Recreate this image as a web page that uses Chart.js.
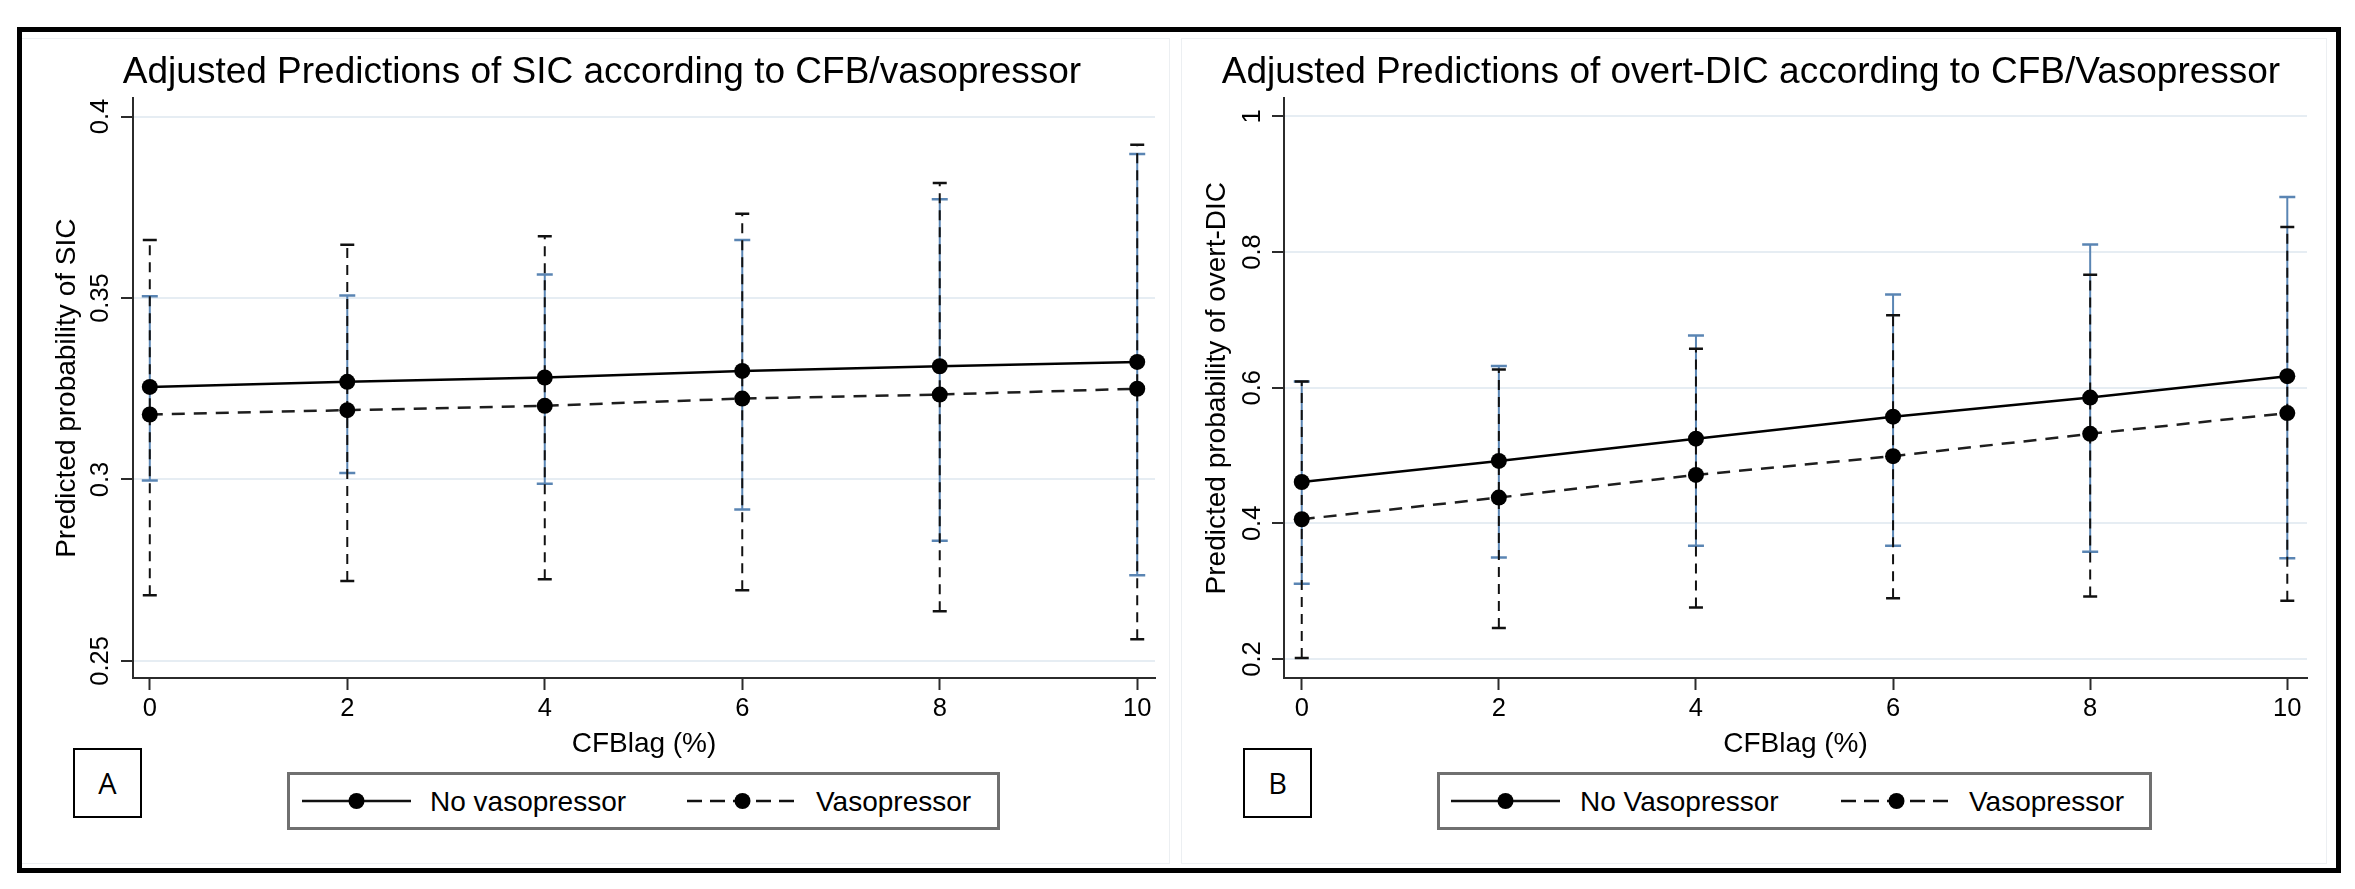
<!DOCTYPE html>
<html lang="en">
<head>
  <meta charset="UTF-8" />
  <title>Adjusted Predictions of SIC and overt-DIC</title>
  <script src="https://cdn.jsdelivr.net/npm/chart.js"></script>
  <style>
    body {
      margin: 0;
      background: #fff;
      font-family: "Liberation Sans", Arial, sans-serif;
    }
    #frame {
      position: absolute;
      left: 17px;
      top: 27px;
      width: 2314px;
      height: 836px;
      border: 5px solid #000;
    }
    .ghost {
      position: absolute;
      border: 1px solid #eceff2;
    }
    .panel {
      position: absolute;
      top: 23px;
      height: 845px;
    }
    .letter {
      position: absolute;
      box-sizing: border-box;
      width: 69px;
      height: 70px;
      border: 2px solid #000;
      background: #fff;
      font-family: "Open Sans", sans-serif;
      font-size: 29px;
      line-height: 66px;
      text-align: center;
      color: #000;
    }
    .legend {
      position: absolute;
      box-sizing: border-box;
      top: 772px;
      height: 58px;
      border: 3px solid #707070;
      background: #fff;
    }
    .legend svg {
      position: absolute;
      left: 0;
      top: 0;
    }
  </style>
</head>
<body>
  <div id="frame"></div>
  <div class="ghost" style="left:22px; top:38px; width:1147px; height:824px; border-left:none;"></div>
  <div class="ghost" style="left:1181px; top:38px; width:1144px; height:824px;"></div>

  <div class="panel" style="left:20px; width:1148px;"><canvas id="chartSIC"></canvas></div>
  <div class="panel" style="left:1172px; width:1164px;"><canvas id="chartDIC"></canvas></div>

  <div class="letter" style="left:73px; top:748px;">A</div>
  <div class="letter" style="left:1243px; top:748px;">B</div>

  <div class="legend" id="legendSIC" style="left:287px; width:713px;"></div>
  <div class="legend" id="legendDIC" style="left:1437px; width:715px;"></div>

  <script>
    // CFBlag (%) values where margins were evaluated
    const cfbLag = [0, 2, 4, 6, 8, 10];
    const xTicks = [0, 2, 4, 6, 8, 10];

    // Panel A: SIC
    const sicTicks = [0.25, 0.3, 0.35, 0.4];
    const sicTickLabels = ["0.25", "0.3", "0.35", "0.4"];
    const sicLabels = ["No vasopressor", "Vasopressor"];
    const sicNoVaso = [0.3255, 0.3269, 0.3281, 0.3299, 0.3312, 0.3324];
    const sicNoVasoLo = [0.2997, 0.3018, 0.2988, 0.2917, 0.2831, 0.2736];
    const sicNoVasoHi = [0.3505, 0.3507, 0.3565, 0.3660, 0.3772, 0.3897];
    const sicVaso = [0.3179, 0.3191, 0.3203, 0.3223, 0.3234, 0.3250];
    const sicVasoLo = [0.2681, 0.2720, 0.2725, 0.2695, 0.2637, 0.2560];
    const sicVasoHi = [0.3660, 0.3647, 0.3670, 0.3732, 0.3817, 0.3922];

    // Panel B: overt-DIC
    const dicTicks = [0.2, 0.4, 0.6, 0.8, 1];
    const dicTickLabels = ["0.2", "0.4", "0.6", "0.8", "1"];
    const dicLabels = ["No Vasopressor", "Vasopressor"];
    const dicNoVaso = [0.461, 0.492, 0.5248, 0.5573, 0.5854, 0.617];
    const dicNoVasoLo = [0.311, 0.3495, 0.367, 0.367, 0.358, 0.3485];
    const dicNoVasoHi = [0.609, 0.632, 0.677, 0.7374, 0.811, 0.881];
    const dicVaso = [0.406, 0.438, 0.4714, 0.499, 0.532, 0.5626];
    const dicVasoLo = [0.2015, 0.2456, 0.276, 0.2897, 0.292, 0.2858];
    const dicVasoHi = [0.609, 0.627, 0.6573, 0.7068, 0.7665, 0.837];

    const FONT = "'Liberation Sans', Arial, sans-serif";
    const CI_BLUE = "#5a85b3";
    const AXIS = "#2b2b2b";
    const GRID = "#e6edf3";

    function lineData(xs, ys) {
      return xs.map((x, i) => ({ x: x, y: ys[i] }));
    }

    // each interval is a lo-hi segment, broken from the next by a null point
    function ciData(xs, lo, hi) {
      const pts = [];
      xs.forEach((x, i) => {
        pts.push({ x: x, y: lo[i] }, { x: x, y: hi[i] }, { x: x, y: null });
      });
      return pts;
    }

    function makeChart(id, cfg) {
      const ctx = document.getElementById(id).getContext("2d");
      return new Chart(ctx, {
        type: "line",
        data: {
          datasets: [
            {
              label: cfg.labels[0],
              data: lineData(cfbLag, cfg.nv),
              borderColor: "#000",
              borderWidth: 2.5,
              pointStyle: "circle",
              pointRadius: 8,
              pointBackgroundColor: "#000",
              pointBorderWidth: 0
            },
            {
              label: cfg.labels[1],
              data: lineData(cfbLag, cfg.v),
              borderColor: "#1e1e1e",
              borderWidth: 2.5,
              borderDash: [13, 9],
              pointStyle: "circle",
              pointRadius: 8,
              pointBackgroundColor: "#000",
              pointBorderWidth: 0
            },
            {
              label: cfg.labels[1] + " 95% CI",
              data: ciData(cfbLag, cfg.vLo, cfg.vHi),
              borderColor: "#111",
              borderWidth: 2,
              borderDash: [10, 7],
              pointStyle: "line",
              pointRadius: 7,
              pointBorderWidth: 2.5,
              pointBorderColor: "#111",
              spanGaps: false
            },
            {
              label: cfg.labels[0] + " 95% CI",
              data: ciData(cfbLag, cfg.nvLo, cfg.nvHi),
              borderColor: CI_BLUE,
              borderWidth: 2,
              pointStyle: "line",
              pointRadius: 8,
              pointBorderWidth: 2.5,
              pointBorderColor: CI_BLUE,
              spanGaps: false
            }
          ]
        },
        options: {
          responsive: true,
          maintainAspectRatio: false,
          animation: false,
          events: [],
          layout: { padding: { top: 0, left: cfg.leftPad, right: cfg.rightPad, bottom: 0 } },
          plugins: {
            legend: { display: false },
            tooltip: { enabled: false },
            title: {
              display: true,
              text: cfg.title,
              color: "#000",
              font: { family: FONT, size: 37, weight: "normal" },
              padding: { top: 28, bottom: 3 }
            }
          },
          scales: {
            x: {
              type: "linear",
              min: cfg.xMin,
              max: cfg.xMax,
              afterBuildTicks: s => { s.ticks = xTicks.map(v => ({ value: v })); },
              afterFit: s => { s.height = 190; },
              ticks: { color: "#000", font: { family: FONT, size: 25.5 }, padding: 4, maxRotation: 0 },
              grid: { drawOnChartArea: false, drawTicks: true, tickLength: 12, tickColor: AXIS, tickWidth: 2 },
              border: { display: true, color: AXIS, width: 2 },
              title: {
                display: true,
                text: "CFBlag (%)",
                color: "#000",
                font: { family: FONT, size: 28 },
                padding: { top: 0, bottom: 107 }
              }
            },
            y: {
              type: "linear",
              min: cfg.yMin,
              max: cfg.yMax,
              afterBuildTicks: s => { s.ticks = cfg.yTicks.map(v => ({ value: v })); },
              afterFit: s => { s.width = cfg.yAxisWidth - cfg.leftPad; },
              ticks: {
                color: "#000",
                font: { family: FONT, size: 25.5 },
                minRotation: 90,
                maxRotation: 90,
                crossAlign: "center",
                padding: cfg.tickPad,
                callback: (value, i) => cfg.yTickLabels[i]
              },
              grid: { color: GRID, lineWidth: 2, drawTicks: true, tickLength: 12, tickColor: AXIS, tickWidth: 2 },
              border: { display: true, color: AXIS, width: 2 },
              title: {
                display: true,
                text: cfg.yTitle,
                color: "#000",
                font: { family: FONT, size: 28 },
                padding: { top: cfg.yTitleX - cfg.leftPad, bottom: 0 }
              }
            }
          }
        }
      });
    }

    makeChart("chartSIC", {
      title: "Adjusted Predictions of SIC according to CFB/vasopressor",
      yTitle: "Predicted probability of SIC",
      labels: sicLabels,
      yTicks: sicTicks,
      yTickLabels: sicTickLabels,
      yMin: 0.2453, yMax: 0.4050,
      xMin: -0.17, xMax: 10.18,
      yAxisWidth: 113, leftPad: 29, rightPad: 13, tickPad: -5, yTitleX: 30,
      nv: sicNoVaso, nvLo: sicNoVasoLo, nvHi: sicNoVasoHi,
      v: sicVaso, vLo: sicVasoLo, vHi: sicVasoHi
    });

    makeChart("chartDIC", {
      title: "Adjusted Predictions of overt-DIC according to CFB/Vasopressor",
      yTitle: "Predicted probability of overt-DIC",
      labels: dicLabels,
      yTicks: dicTicks,
      yTickLabels: dicTickLabels,
      yMin: 0.172, yMax: 1.0265,
      xMin: -0.18, xMax: 10.2,
      yAxisWidth: 112, leftPad: 23, rightPad: 29, tickPad: 1, yTitleX: 28,
      nv: dicNoVaso, nvLo: dicNoVasoLo, nvHi: dicNoVasoHi,
      v: dicVaso, vLo: dicVasoLo, vHi: dicVasoHi
    });

    // legend boxes, Stata style: line sample with marker, then the label
    function drawLegend(id, labels, pos) {
      const box = document.getElementById(id);
      const w = box.clientWidth, h = box.clientHeight, cy = h / 2;
      const ns = "http://www.w3.org/2000/svg";
      const svg = document.createElementNS(ns, "svg");
      svg.setAttribute("width", w);
      svg.setAttribute("height", h);
      labels.forEach((lab, i) => {
        const p = pos[i];
        const line = document.createElementNS(ns, "line");
        line.setAttribute("x1", p.x1); line.setAttribute("x2", p.x2);
        line.setAttribute("y1", cy); line.setAttribute("y2", cy);
        line.setAttribute("stroke", "#111");
        line.setAttribute("stroke-width", 2.5);
        if (i === 1) line.setAttribute("stroke-dasharray", "15 8");
        svg.appendChild(line);
        const dot = document.createElementNS(ns, "circle");
        dot.setAttribute("cx", (p.x1 + p.x2) / 2);
        dot.setAttribute("cy", cy);
        dot.setAttribute("r", 8);
        dot.setAttribute("fill", "#000");
        svg.appendChild(dot);
        const t = document.createElementNS(ns, "text");
        t.setAttribute("x", p.tx);
        t.setAttribute("y", cy);
        t.setAttribute("dominant-baseline", "central");
        t.setAttribute("font-family", FONT);
        t.setAttribute("font-size", 28);
        t.setAttribute("fill", "#000");
        t.textContent = lab;
        svg.appendChild(t);
      });
      box.appendChild(svg);
    }

    drawLegend("legendSIC", sicLabels, [
      { x1: 12, x2: 121, tx: 140 },
      { x1: 397, x2: 508, tx: 526 }
    ]);
    drawLegend("legendDIC", dicLabels, [
      { x1: 11, x2: 120, tx: 140 },
      { x1: 401, x2: 512, tx: 529 }
    ]);
  </script>
</body>
</html>
